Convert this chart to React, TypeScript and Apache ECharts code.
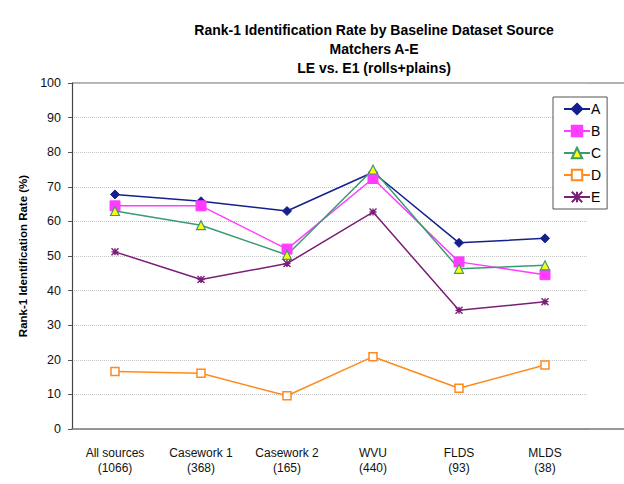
import React, { useEffect, useRef } from "react";
import * as echarts from "echarts";

const categories = [
  "All sources\n(1066)",
  "Casework 1\n(368)",
  "Casework 2\n(165)",
  "WVU\n(440)",
  "FLDS\n(93)",
  "MLDS\n(38)",
];
const seriesNames = ["A", "B", "C", "D", "E"];
const valuesA = [67.8, 65.8, 63.0, 74.2, 53.8, 55.1];
const valuesB = [64.5, 64.5, 52.0, 72.4, 48.3, 44.6];
const valuesC = [63.0, 58.9, 50.3, 75.0, 46.3, 47.3];
const valuesD = [16.6, 16.1, 9.6, 20.9, 11.8, 18.5];
const valuesE = [51.2, 43.2, 47.8, 62.7, 34.3, 36.8];
const yTicks = [0, 10, 20, 30, 40, 50, 60, 70, 80, 90, 100];

const FONT = '"Liberation Sans", Arial, sans-serif';

export default function App() {
  const ref = useRef<HTMLDivElement>(null);
  useEffect(() => {
    document.body.style.margin = "0";
    const chart = echarts.init(ref.current!, null, { renderer: "svg" });
    const colors = ["#14208c", "#ff3cff", "#3a9a74", "#ff8a1e", "#7a1f78"];
    const mk = (
      i: number,
      data: number[],
      symbol: string,
      size: number,
      fill: string,
      border: string,
      bw: number
    ) => ({
      name: seriesNames[i],
      type: "line",
      data,
      symbol,
      symbolSize: size,
      lineStyle: { color: colors[i], width: 1.5 },
      itemStyle: { color: fill, borderColor: border, borderWidth: bw },
      emphasis: { disabled: true },
    });
    chart.setOption({
      animation: false,
      textStyle: { fontFamily: FONT },
      title: {
        text: "Rank-1 Identification Rate by Baseline Dataset Source\nMatchers A-E\nLE vs. E1 (rolls+plains)",
        left: 369,
        top: 15,
        textAlign: "center",
        textStyle: {
          fontFamily: FONT,
          fontSize: 14,
          fontWeight: "bold",
          color: "#000",
          lineHeight: 19,
        },
      },
      legend: {
        orient: "vertical",
        left: 553,
        top: 97,
        width: 61,
        height: 111,
        padding: [5, 6, 5, 10],
        itemGap: 8,
        itemWidth: 26,
        itemHeight: 13,
        borderColor: "#555",
        borderWidth: 1,
        backgroundColor: "#fff",
        textStyle: { fontFamily: FONT, fontSize: 14, color: "#000", padding: [0, 0, 0, -4] },
        data: seriesNames,
      },
      grid: { left: 72, right: 36, top: 83, bottom: 55 },
      xAxis: {
        type: "category",
        data: categories,
        boundaryGap: true,
        axisLine: { lineStyle: { color: "#777", width: 1.5 } },
        axisTick: { length: 4, lineStyle: { color: "#555" } },
        axisLabel: {
          fontFamily: FONT,
          fontSize: 12,
          color: "#111",
          lineHeight: 15,
          margin: 16,
          interval: 0,
        },
      },
      yAxis: {
        type: "value",
        min: 0,
        max: 100,
        interval: 10,
        name: "Rank-1 Identification Rate (%)",
        nameLocation: "middle",
        nameGap: 37,
        nameTextStyle: { fontFamily: FONT, fontSize: 11.5, fontWeight: "bold", color: "#000" },
        axisLine: { show: true, lineStyle: { color: "#444", width: 1.2 } },
        axisTick: { show: true, length: 4, lineStyle: { color: "#555" } },
        axisLabel: {
          fontFamily: FONT,
          fontSize: 12.5,
          color: "#111",
          margin: 11,
          formatter: (v: number) => (yTicks.includes(v) ? String(v) : ""),
        },
        splitLine: { lineStyle: { color: "#c4c4c4", type: "dotted", width: 1 } },
      },
      graphic: [
        { type: "line", shape: { x1: 72, y1: 83, x2: 624, y2: 83 }, style: { stroke: "#999", lineWidth: 1.5 } },
        { type: "line", shape: { x1: 588, y1: 429, x2: 624, y2: 429 }, style: { stroke: "#777", lineWidth: 1.5 } },
      ],
      series: [
        mk(0, valuesA, "diamond", 9, colors[0], colors[0], 1),
        mk(1, valuesB, "rect", 10, colors[1], colors[1], 1),
        mk(2, valuesC, "triangle", 9, "#ffff00", colors[2], 1.2),
        mk(3, valuesD, "rect", 8, "#ffffff", colors[3], 1.5),
        mk(4, valuesE, "path://M0,0L10,10M10,0L0,10M5,0L5,10M0,5L10,5", 7, colors[4], colors[4], 1.4),
      ],
    });
    return () => chart.dispose();
  }, []);
  return <div ref={ref} style={{ width: 624, height: 484 }} />;
}
